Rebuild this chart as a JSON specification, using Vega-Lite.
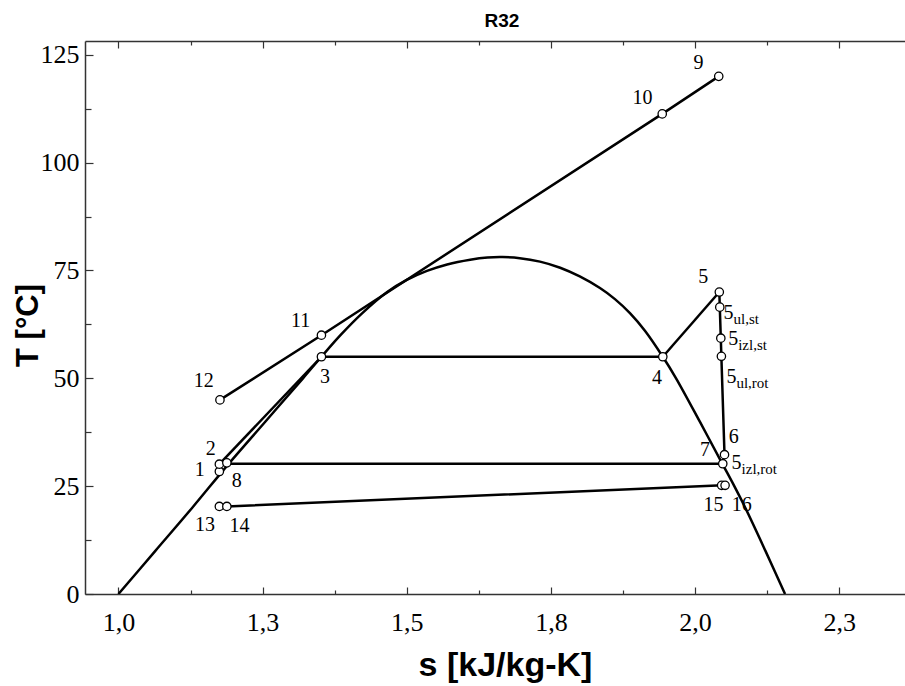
{
  "$schema": "https://vega.github.io/schema/vega-lite/v6.json",
  "width": 820,
  "height": 553,
  "autosize": {"type": "none"},
  "padding": {"left": 85, "top": 41, "right": 0, "bottom": 92},
  "background": "#ffffff",
  "title": {"text": "R32", "font": "Liberation Sans", "fontSize": 19, "fontWeight": "bold", "color": "#000", "anchor": "middle", "offset": 9, "dx": 7},
  "config": {"view": {"stroke": null}},
  "datasets": {
    "dome": [
      {"i": 1, "s": 1.000, "T": 0},
      {"i": 2, "s": 1.064, "T": 10},
      {"i": 3, "s": 1.128, "T": 20},
      {"i": 4, "s": 1.190, "T": 30},
      {"i": 5, "s": 1.255, "T": 40},
      {"i": 6, "s": 1.320, "T": 50},
      {"i": 7, "s": 1.352, "T": 55},
      {"i": 8, "s": 1.385, "T": 60},
      {"i": 9, "s": 1.422, "T": 65},
      {"i": 10, "s": 1.466, "T": 70},
      {"i": 11, "s": 1.500, "T": 72.8},
      {"i": 12, "s": 1.535, "T": 74.9},
      {"i": 13, "s": 1.570, "T": 76.4},
      {"i": 14, "s": 1.610, "T": 77.5},
      {"i": 15, "s": 1.640, "T": 78.0},
      {"i": 16, "s": 1.666, "T": 78.1},
      {"i": 17, "s": 1.696, "T": 77.86},
      {"i": 18, "s": 1.731, "T": 77.05},
      {"i": 19, "s": 1.766, "T": 75.64},
      {"i": 20, "s": 1.800, "T": 73.62},
      {"i": 21, "s": 1.835, "T": 70.93},
      {"i": 22, "s": 1.861, "T": 68.36},
      {"i": 23, "s": 1.887, "T": 65.11},
      {"i": 24, "s": 1.913, "T": 61.03},
      {"i": 25, "s": 1.944, "T": 55},
      {"i": 26, "s": 1.967, "T": 50},
      {"i": 27, "s": 2.008, "T": 40},
      {"i": 28, "s": 2.048, "T": 30},
      {"i": 29, "s": 2.068, "T": 25},
      {"i": 30, "s": 2.087, "T": 20},
      {"i": 31, "s": 2.122, "T": 10},
      {"i": 32, "s": 2.156, "T": 0}
    ],
    "lines": [
      {"series": "A", "i": 1, "s": 2.041, "T": 120},
      {"series": "A", "i": 2, "s": 1.943, "T": 111.3},
      {"series": "A", "i": 3, "s": 1.352, "T": 60},
      {"series": "A", "i": 4, "s": 1.176, "T": 45},
      {"series": "B", "i": 1, "s": 1.352, "T": 55},
      {"series": "B", "i": 2, "s": 1.944, "T": 55},
      {"series": "C", "i": 1, "s": 1.944, "T": 55},
      {"series": "C", "i": 2, "s": 2.042, "T": 70},
      {"series": "D", "i": 1, "s": 2.042, "T": 70},
      {"series": "D", "i": 2, "s": 2.051, "T": 32.3},
      {"series": "D", "i": 3, "s": 2.048, "T": 30.2},
      {"series": "F", "i": 1, "s": 1.188, "T": 30.2},
      {"series": "F", "i": 2, "s": 2.048, "T": 30.2},
      {"series": "G", "i": 1, "s": 1.175, "T": 30.1},
      {"series": "G", "i": 2, "s": 1.352, "T": 55},
      {"series": "H", "i": 1, "s": 1.175, "T": 28.4},
      {"series": "H", "i": 2, "s": 1.175, "T": 30.1},
      {"series": "I", "i": 1, "s": 1.175, "T": 20.3},
      {"series": "I", "i": 2, "s": 1.188, "T": 20.3},
      {"series": "I", "i": 3, "s": 2.048, "T": 25.2}
    ],
    "points": [
      {"name": "1", "s": 1.175, "T": 28.4},
      {"name": "2", "s": 1.175, "T": 30.1},
      {"name": "8", "s": 1.188, "T": 30.4},
      {"name": "3", "s": 1.352, "T": 55},
      {"name": "11", "s": 1.352, "T": 60},
      {"name": "12", "s": 1.176, "T": 45},
      {"name": "4", "s": 1.944, "T": 55},
      {"name": "5", "s": 2.042, "T": 70},
      {"name": "5ul,st", "s": 2.0428, "T": 66.5},
      {"name": "5izl,st", "s": 2.0446, "T": 59.3},
      {"name": "5ul,rot", "s": 2.0456, "T": 55.1},
      {"name": "6", "s": 2.051, "T": 32.3},
      {"name": "7", "s": 2.048, "T": 30.2},
      {"name": "9", "s": 2.041, "T": 120},
      {"name": "10", "s": 1.943, "T": 111.3},
      {"name": "13", "s": 1.175, "T": 20.3},
      {"name": "14", "s": 1.188, "T": 20.3},
      {"name": "15", "s": 2.046, "T": 25.2},
      {"name": "16", "s": 2.052, "T": 25.2}
    ],
    "labels": [
      {"t": "1", "sub": "", "s": 1.141, "T": 28.8},
      {"t": "2", "sub": "", "s": 1.160, "T": 33.6},
      {"t": "8", "sub": "", "s": 1.205, "T": 26.1},
      {"t": "13", "sub": "", "s": 1.150, "T": 16.1},
      {"t": "14", "sub": "", "s": 1.210, "T": 15.7},
      {"t": "12", "sub": "", "s": 1.148, "T": 49.3},
      {"t": "11", "sub": "", "s": 1.316, "T": 63.4},
      {"t": "3", "sub": "", "s": 1.358, "T": 50.3},
      {"t": "4", "sub": "", "s": 1.934, "T": 50.1},
      {"t": "5", "sub": "", "s": 2.014, "T": 73.5},
      {"t": "5", "sub": "ul,st", "s": 2.058, "T": 65.1},
      {"t": "5", "sub": "izl,st", "s": 2.066, "T": 59.0},
      {"t": "5", "sub": "ul,rot", "s": 2.063, "T": 50.4},
      {"t": "6", "sub": "", "s": 2.067, "T": 36.5},
      {"t": "7", "sub": "", "s": 2.017, "T": 33.4},
      {"t": "5", "sub": "izl,rot", "s": 2.072, "T": 30.4},
      {"t": "15", "sub": "", "s": 2.032, "T": 20.7},
      {"t": "16", "sub": "", "s": 2.081, "T": 20.7},
      {"t": "9", "sub": "", "s": 2.006, "T": 123.1},
      {"t": "10", "sub": "", "s": 1.909, "T": 115}
    ]
  },
  "layer": [
    {
      "data": {"name": "dome"},
      "mark": {"type": "line", "interpolate": "catmull-rom", "color": "#000", "strokeWidth": 2.5, "clip": true},
      "encoding": {
        "x": {
          "field": "s", "type": "quantitative",
          "scale": {"domain": [0.942, 2.364], "nice": false, "zero": false},
          "axis": {
            "orient": "bottom",
            "values": [1, 1.125, 1.25, 1.375, 1.5, 1.625, 1.75, 1.875, 2, 2.125, 2.25],
            "labelExpr": "(datum.value*4)%1==0 ? replace(format(datum.value,'.1f'),'.',',') : ''",
            "tickSize": {"condition": {"test": "(datum.value*4)%1==0", "value": -7}, "value": -4},
            "tickColor": "#333", "tickWidth": 1.2,
            "domainColor": "#333", "domainWidth": 1.5,
            "labelFont": "Liberation Serif", "labelFontSize": 26, "labelColor": "#000", "labelPadding": 22,
            "labelFlush": false, "labelOverlap": false, "grid": false,
            "title": "s [kJ/kg-K]", "titleFont": "Liberation Sans", "titleFontSize": 34, "titleFontWeight": "bold", "titleColor": "#000", "titlePadding": 10, "titleX": 420
          }
        },
        "y": {
          "field": "T", "type": "quantitative",
          "scale": {"domain": [0, 128.2], "nice": false, "zero": false},
          "axis": {
            "orient": "left",
            "values": [0, 12.5, 25, 37.5, 50, 62.5, 75, 87.5, 100, 112.5, 125],
            "labelExpr": "datum.value%25==0 ? datum.label : ''",
            "tickSize": {"condition": {"test": "datum.value%25==0", "value": -8}, "value": -6},
            "tickColor": "#333", "tickWidth": 1.2,
            "domainColor": "#333", "domainWidth": 1.5,
            "labelFont": "Liberation Serif", "labelFontSize": 26, "labelColor": "#000", "labelPadding": 14,
            "labelFlush": false, "labelOverlap": false, "grid": false,
            "title": "T [°C]", "titleFont": "Liberation Sans", "titleFontSize": 31, "titleFontWeight": "bold", "titleColor": "#000",
            "titleX": -57, "titleY": 284, "titleAngle": 270, "titleAlign": "center", "titleBaseline": "middle"
          }
        },
        "order": {"field": "i", "type": "quantitative"}
      }
    },
    {
      "data": {"name": "lines"},
      "mark": {"type": "line", "color": "#000", "strokeWidth": 2.5, "clip": true},
      "encoding": {
        "x": {
          "field": "s", "type": "quantitative",
          "axis": {
            "orient": "top",
            "values": [1, 1.125, 1.25, 1.375, 1.5, 1.625, 1.75, 1.875, 2, 2.125, 2.25],
            "labels": false, "title": null, "grid": false,
            "tickSize": {"condition": {"test": "(datum.value*4)%1==0", "value": -7}, "value": -4},
            "tickColor": "#333", "tickWidth": 1.2,
            "domainColor": "#333", "domainWidth": 1.5
          }
        },
        "y": {"field": "T", "type": "quantitative", "axis": null},
        "detail": {"field": "series"},
        "order": {"field": "i", "type": "quantitative"}
      }
    },
    {
      "data": {"name": "points"},
      "mark": {"type": "point", "shape": "circle", "filled": true, "fill": "#fff", "stroke": "#000", "strokeWidth": 1.3, "size": 70, "opacity": 1},
      "encoding": {
        "x": {"field": "s", "type": "quantitative", "axis": null},
        "y": {"field": "T", "type": "quantitative", "axis": null}
      }
    },
    {
      "data": {"name": "labels"},
      "mark": {"type": "text", "font": "Liberation Serif", "fontSize": 20, "color": "#000", "align": "center", "baseline": "middle"},
      "encoding": {
        "x": {"field": "s", "type": "quantitative", "axis": null},
        "y": {"field": "T", "type": "quantitative", "axis": null},
        "text": {"field": "t"}
      }
    },
    {
      "data": {"name": "labels"},
      "mark": {"type": "text", "font": "Liberation Serif", "fontSize": 15, "color": "#000", "align": "left", "baseline": "middle", "dx": 5, "dy": 6},
      "encoding": {
        "x": {"field": "s", "type": "quantitative", "axis": null},
        "y": {"field": "T", "type": "quantitative", "axis": null},
        "text": {"field": "sub"}
      }
    }
  ],
  "resolve": {"axis": {"x": "independent", "y": "independent"}}
}
